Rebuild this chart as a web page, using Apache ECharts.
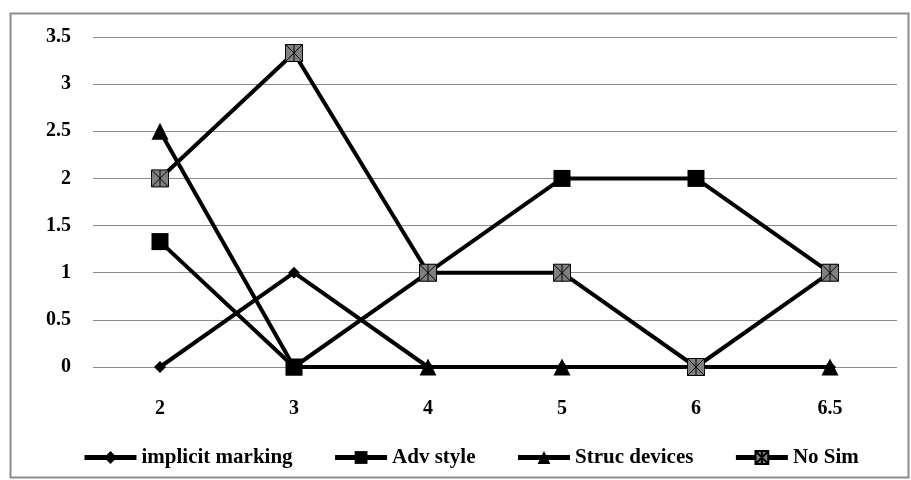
<!DOCTYPE html>
<html>
<head>
<meta charset="utf-8">
<script src="https://cdn.jsdelivr.net/npm/echarts@6/dist/echarts.min.js"></script>
<style>
  html, body { margin: 0; padding: 0; background: #fff; }
  #chart { width: 911px; height: 480px; }
</style>
</head>
<body>
<div id="chart"></div>
<script>
const categories = ['2', '3', '4', '5', '6', '6.5'];
const implicitMarking = [0, 1, 0, 0, 0, 0];
const advStyle = [1.33, 0, 1, 2, 2, 1];
const strucDevices = [2.5, 0, 0, 0, 0, 0];
const noSim = [2, 3.33, 1, 1, 0, 1];

const font = 'Liberation Serif';
const starBox = 'path://M0,0H10V10H0Z M0,0L10,10 M10,0L0,10 M5,0V10';

function makeSeries(name, data, symbol, size, item) {
  return {
    name: name,
    type: 'line',
    data: data,
    symbol: symbol,
    symbolSize: size,
    showAllSymbol: true,
    lineStyle: { color: '#000', width: 4 },
    itemStyle: item,
    emphasis: { disabled: true },
  };
}

const chart = echarts.init(document.getElementById('chart'));
chart.setOption({
  animation: false,
  textStyle: { fontFamily: font },
  graphic: [
    {
      type: 'rect',
      shape: { x: 10.5, y: 13.5, width: 898, height: 464 },
      style: { fill: 'none', stroke: '#8c8c8c', lineWidth: 2 },
      z: -1,
    },
  ],
  grid: { left: 93, right: 14, top: 37, bottom: 113 },
  legend: {
    bottom: 7,
    left: 77,
    itemWidth: 52,
    itemHeight: 16,
    itemGap: 40,
    lineStyle: { width: 5 },
    textStyle: { fontFamily: font, fontWeight: 'bold', fontSize: 21, color: '#000' },
    data: ['implicit marking', 'Adv style', 'Struc devices', 'No Sim'],
  },
  xAxis: {
    type: 'category',
    data: categories,
    boundaryGap: true,
    axisLine: { show: false },
    axisTick: { show: false },
    axisLabel: { fontFamily: font, fontWeight: 'bold', fontSize: 20, color: '#000', margin: 32 },
  },
  yAxis: {
    type: 'value',
    min: 0,
    max: 3.5,
    interval: 0.5,
    axisLine: { show: false },
    axisTick: { show: false },
    axisLabel: { fontFamily: font, fontWeight: 'bold', fontSize: 20, color: '#000', margin: 22 },
    splitLine: { lineStyle: { color: '#8c8c8c', width: 1 } },
  },
  series: [
    makeSeries('implicit marking', implicitMarking, 'diamond', 12, { color: '#000' }),
    makeSeries('Adv style', advStyle, 'rect', 17, { color: '#000' }),
    makeSeries('Struc devices', strucDevices, 'triangle', 17, { color: '#000' }),
    makeSeries('No Sim', noSim, starBox, 17, { color: '#808080', borderColor: '#000', borderWidth: 1 }),
  ],
});
</script>
</body>
</html>
